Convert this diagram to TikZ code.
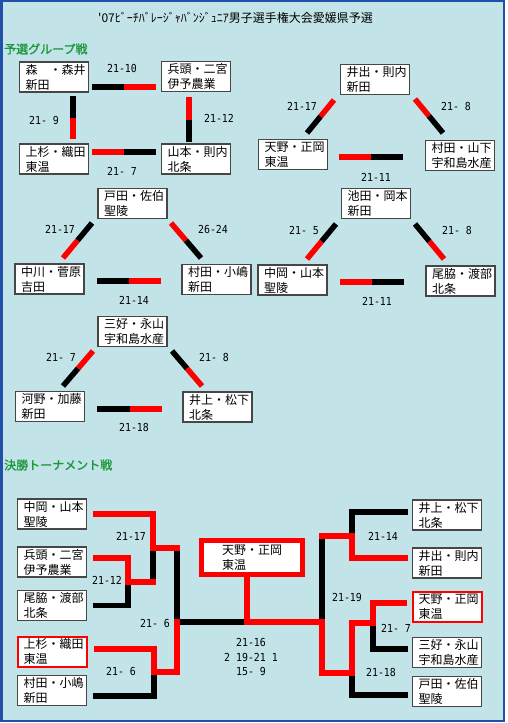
\documentclass[tikz,border=0pt]{standalone}
\usepackage{fontspec}
\newfontfamily\jpfont{Noto Sans CJK JP}
\newfontfamily\headfont[FakeBold=1.5]{Noto Sans CJK JP}
\newfontfamily\scorefont[FakeStretch=0.9]{DejaVu Sans Mono}
\usepackage{tikz}
\usetikzlibrary{calc}

\definecolor{bgcyan}{RGB}{194,228,232}
\definecolor{frameblue}{RGB}{32,80,170}
\definecolor{boxgray}{RGB}{70,70,70}
\definecolor{headgreen}{RGB}{30,150,60}

% one league match: two halves of a bar, loser black, winner red
\newcommand{\duel}[4]{%
  \draw[halfbar, #3] (#1) -- ($(#1)!0.5!(#2)$);
  \draw[halfbar, #4] ($(#1)!0.5!(#2)$) -- (#2);
}

\begin{document}
\begin{tikzpicture}[x=1pt, y=-1pt,
    team/.style={rectangle, draw=boxgray, line width=1.3pt, fill=white, minimum width=69pt, minimum height=30pt, text width=57pt, align=left, inner sep=0pt, font=\jpfont\fontsize{12}{15}\selectfont},
    seed/.style={team, draw=red, line width=2pt},
    winner/.style={team, draw=red, line width=5pt, minimum width=101pt, minimum height=34pt, text width=60pt},
    score/.style={inner sep=0pt, font=\scorefont\fontsize{11}{14.5}\selectfont, align=center},
    heading/.style={anchor=west, inner sep=0pt, text=headgreen, font=\headfont\fontsize{12}{14}\selectfont},
    halfbar/.style={line width=5.5pt},
    tline/.style={line width=5.5pt, line cap=rect, line join=miter},
    win/.style={tline, red},
    lose/.style={tline, black}
]
\useasboundingbox (0,0) rectangle (507,723);
\fill[white] (0,0) rectangle (507,723);
\draw[frameblue, line width=2.5pt, fill=bgcyan] (1.5,1.2) rectangle (504,721);

\node[anchor=west, inner sep=0pt, font=\jpfont\fontsize{12}{14}\selectfont] (title) at (98,18) {'07ﾋﾞｰﾁﾊﾞﾚｰｼﾞｬﾊﾞﾝｼﾞｭﾆｱ男子選手権大会愛媛県予選};

\node[heading] (league) at (4,49) {予選グループ戦};
\node[heading] (cup) at (4,465) {決勝トーナメント戦};

% group 1
\node[team] (mori) at (54,77) {森　・森井\\新田};
\node[team] (hyoto) at (196,76.5) {兵頭・二宮\\伊予農業};
\node[team] (uesugi) at (54,159) {上杉・織田\\東温};
\node[team] (yamamoto) at (196,159) {山本・則内\\北条};

\coordinate (p1a) at (92,87);   \coordinate (p1b) at (156,87);
\coordinate (p2a) at (73,96);   \coordinate (p2b) at (73,139);
\coordinate (p3a) at (189,97);  \coordinate (p3b) at (189,142);
\coordinate (p4a) at (92,152);  \coordinate (p4b) at (156,152);
\duel{p1a}{p1b}{black}{red}
\duel{p2a}{p2b}{black}{red}
\duel{p3a}{p3b}{red}{black}
\duel{p4a}{p4b}{red}{black}

\node[score] (s1) at (122,68) {21-10};
\node[score] (s2) at (44,120) {21- 9};
\node[score] (s3) at (219,118) {21-12};
\node[score] (s4) at (122,171) {21- 7};

% group 2
\node[team] (ide) at (375,79.5) {井出・則内\\新田};
\node[team] (amano) at (293,154.5) {天野・正岡\\東温};
\node[team] (murata) at (460,155.5) {村田・山下\\宇和島水産};

\coordinate (p5a) at (334,100); \coordinate (p5b) at (307,133);
\coordinate (p6a) at (415,99);  \coordinate (p6b) at (443,133);
\coordinate (p7a) at (339,157); \coordinate (p7b) at (403,157);
\duel{p5a}{p5b}{red}{black}
\duel{p6a}{p6b}{red}{black}
\duel{p7a}{p7b}{red}{black}

\node[score] (s5) at (302,106) {21-17};
\node[score] (s6) at (456,106) {21- 8};
\node[score] (s7) at (376,177) {21-11};

% group 3
\node[team] (toda) at (132.5,203.5) {戸田・佐伯\\聖陵};
\node[team] (nakagawa) at (49.5,279) {中川・菅原\\吉田};
\node[team] (muratak) at (216.5,279.5) {村田・小嶋\\新田};

\coordinate (p8a) at (92,223);   \coordinate (p8b) at (63,258);
\coordinate (p9a) at (171,223);  \coordinate (p9b) at (201,258);
\coordinate (p10a) at (97,281);  \coordinate (p10b) at (161,281);
\duel{p8a}{p8b}{black}{red}
\duel{p9a}{p9b}{red}{black}
\duel{p10a}{p10b}{black}{red}

\node[score] (s8) at (60,229) {21-17};
\node[score] (s9) at (213,229) {26-24};
\node[score] (s10) at (134,300) {21-14};

% group 4
\node[team] (ikeda) at (376,203.5) {池田・岡本\\新田};
\node[team] (nakaoka) at (292.5,280) {中岡・山本\\聖陵};
\node[team] (owaki) at (460.5,281) {尾脇・渡部\\北条};

\coordinate (p11a) at (336,224); \coordinate (p11b) at (307,259);
\coordinate (p12a) at (415,224); \coordinate (p12b) at (444,259);
\coordinate (p13a) at (340,282); \coordinate (p13b) at (404,282);
\duel{p11a}{p11b}{black}{red}
\duel{p12a}{p12b}{black}{red}
\duel{p13a}{p13b}{red}{black}

\node[score] (s11) at (304,230) {21- 5};
\node[score] (s12) at (457,230) {21- 8};
\node[score] (s13) at (377,301) {21-11};

% group 5
\node[team] (miyoshi) at (132.5,331.5) {三好・永山\\宇和島水産};
\node[team] (kono) at (50,406.5) {河野・加藤\\新田};
\node[team] (inoue) at (217.5,407) {井上・松下\\北条};

\coordinate (p14a) at (93,351);  \coordinate (p14b) at (63,386);
\coordinate (p15a) at (172,351); \coordinate (p15b) at (202,386);
\coordinate (p16a) at (97,409);  \coordinate (p16b) at (162,409);
\duel{p14a}{p14b}{red}{black}
\duel{p15a}{p15b}{black}{red}
\duel{p16a}{p16b}{black}{red}

\node[score] (s14) at (61,357) {21- 7};
\node[score] (s15) at (214,357) {21- 8};
\node[score] (s16) at (134,427) {21-18};

% final tournament
\node[team] (tnakaoka) at (52,514) {中岡・山本\\聖陵};
\node[team] (thyoto) at (52,562) {兵頭・二宮\\伊予農業};
\node[team] (towaki) at (52,605.5) {尾脇・渡部\\北条};
\node[seed] (tuesugi) at (52,651.5) {上杉・織田\\東温};
\node[team] (tmuratak) at (52,690.5) {村田・小嶋\\新田};

\node[team] (tinoue) at (447,515) {井上・松下\\北条};
\node[team] (tide) at (447,563) {井出・則内\\新田};
\node[seed] (tamano) at (447,607) {天野・正岡\\東温};
\node[team] (tmiyoshi) at (447,652.5) {三好・永山\\宇和島水産};
\node[team] (ttoda) at (447,691.5) {戸田・佐伯\\聖陵};

\node[winner] (champ) at (252,557.5) {天野・正岡\\東温};

\coordinate (j1) at (128,582);
\coordinate (j2) at (153,548);
\coordinate (j3) at (154,672);
\coordinate (j4) at (177,622);
\coordinate (k1) at (352,536);
\coordinate (k2) at (373,623);
\coordinate (k3) at (352,673);
\coordinate (k4) at (322,622);
\coordinate (fin) at (247,622);

% losers first, winners on top
\draw[lose, shorten <=9pt] (towaki.east) -| (j1);
\draw[lose] (j1 -| j2) -- (j2);
\draw[lose, shorten <=9pt] ([yshift=-5.5pt]tmuratak.east) -| (j3);
\draw[lose] (j2 -| j4) -- (j4);
\draw[lose] (j4) -- (fin);
\draw[lose, shorten <=7pt] ([yshift=3pt]tinoue.west) -| (k1);
\draw[lose, shorten <=7pt] ([yshift=3.5pt]tmiyoshi.west) -| (k2);
\draw[lose, shorten <=7pt] ([yshift=-3.5pt]ttoda.west) -| (k3);
\draw[lose] (k1 -| k4) -- (k4);

\draw[win, shorten <=9pt] ([yshift=4pt]thyoto.east) -| (j1);
\draw[win] (j1) -- (j1 -| j2);
\draw[win, shorten <=9pt] (tnakaoka.east) -| (j2);
\draw[win] (j2) -- (j2 -| j4);
\draw[win, shorten <=9pt] ([yshift=2.5pt]tuesugi.east) -| (j3);
\draw[win] (j3) -| (j4);
\draw[win, shorten <=7pt] ([yshift=5pt]tide.west) -| (k1);
\draw[win] (k1) -- (k1 -| k4);
\draw[win, shorten <=7pt] ([yshift=4pt]tamano.west) -| (k2);
\draw[win] (k2) -| (k3);
\draw[win] (k3) -| (k4);
\draw[win] (k4) -- (fin);
\draw[win] (fin) -- (champ.south -| fin);

\node[score] (s17) at (131,536) {21-17};
\node[score] (s18) at (107,580) {21-12};
\node[score] (s19) at (121,671) {21- 6};
\node[score] (s20) at (155,623) {21- 6};
\node[score] (s21) at (383,536) {21-14};
\node[score] (s22) at (396,628) {21- 7};
\node[score] (s23) at (381,672) {21-18};
\node[score] (s24) at (347,597) {21-19};
\node[score] (s25) at (251,657) {21-16\\2 19-21 1\\15- 9};

\end{tikzpicture}
\end{document}
